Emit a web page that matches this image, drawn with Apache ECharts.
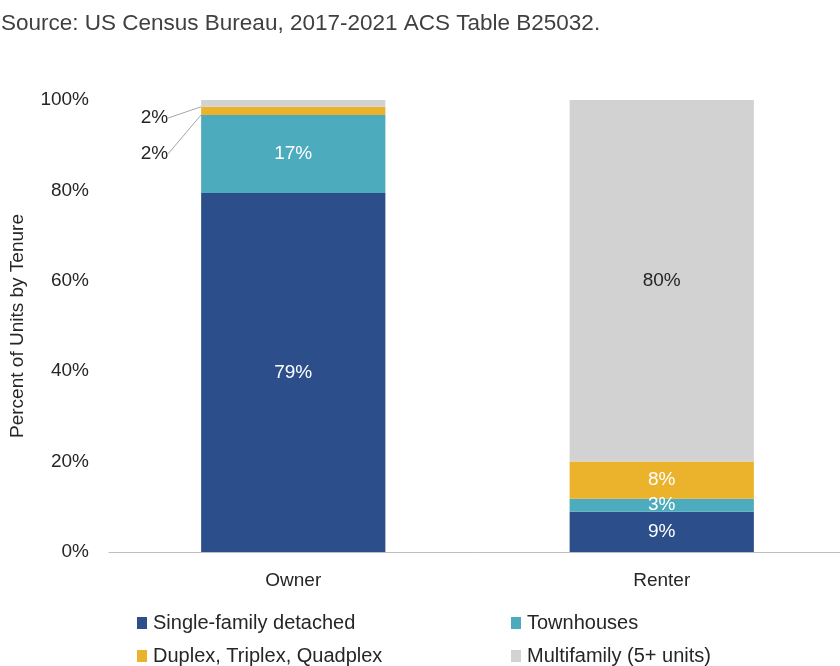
<!DOCTYPE html>
<html>
<head>
<meta charset="utf-8">
<script src="https://cdn.jsdelivr.net/npm/echarts@6/dist/echarts.min.js"></script>
<style>
  html, body { margin: 0; padding: 0; background: #fff; }
  #chart { width: 840px; height: 666px; }
</style>
</head>
<body>
<div id="chart"></div>
<script>
// categories and shares (percent of units by tenure)
const tenures = ["Owner", "Renter"];
const singleFamily = [79.4, 8.9];
const townhouses = [17.3, 2.9];
const smallMulti = [1.8, 8.2];
const multifamily = [1.5, 80.0];
const seriesNames = ["Single-family detached", "Townhouses", "Duplex, Triplex, Quadplex", "Multifamily (5+ units)"];
const colors = ["#2C4F8B", "#4DABBE", "#EBB32B", "#D2D2D2"];
const yTicks = [0, 20, 40, 60, 80, 100];

const FONT = "Liberation Sans";
const chart = echarts.init(document.getElementById("chart"));

// small owner segments get labels pulled out to the left
function outsideItem(v) {
  return {
    value: v,
    label: { color: "#262626" },
    labelLine: { show: true, lineStyle: { color: "#a6a6a6", width: 1 } }
  };
}

function makeSeries(name, idx, values) {
  return {
    name: name,
    type: "bar",
    stack: "total",
    barWidth: "50%",
    itemStyle: { color: colors[idx] },
    label: {
      show: true,
      position: "inside",
      color: "#fff",
      fontFamily: FONT,
      fontSize: 19,
      formatter: p => Math.round(p.value) + "%"
    },
    data: values
  };
}

const series = [
  makeSeries(seriesNames[0], 0, singleFamily),
  makeSeries(seriesNames[1], 1, townhouses),
  makeSeries(seriesNames[2], 2, [outsideItem(smallMulti[0]), smallMulti[1]]),
  makeSeries(seriesNames[3], 3, [outsideItem(multifamily[0]), { value: multifamily[1], label: { color: "#262626" } }])
];
series[2].labelLayout = p => p.dataIndex === 0 ? { x: p.rect.x - 33, y: p.rect.y + 47, align: "right", verticalAlign: "middle" } : {};
series[3].labelLayout = p => p.dataIndex === 0 ? { x: p.rect.x - 33, y: p.rect.y + 18, align: "right", verticalAlign: "middle" } : {};

// one legend per entry so they sit on a 2x2 grid
const legendPos = [[137, 613], [511, 613], [137, 646], [511, 646]];
const legends = seriesNames.map((n, i) => ({
  data: [n],
  left: legendPos[i][0],
  top: legendPos[i][1],
  padding: 0,
  icon: "rect",
  itemWidth: 10,
  itemHeight: 12,
  itemGap: 6,
  textStyle: { fontFamily: FONT, fontSize: 20, color: "#262626", padding: [0, 0, 0, 1] }
}));

chart.setOption({
  animation: false,
  title: {
    text: "Source: US Census Bureau, 2017-2021 ACS Table B25032.",
    left: -4,
    top: 7,
    textStyle: { fontFamily: FONT, fontSize: 22.5, fontWeight: "normal", color: "#404040" }
  },
  legend: legends,
  grid: { left: 109, width: 737, top: 100, bottom: 114, outerBoundsMode: "none" },
  xAxis: {
    type: "category",
    data: tenures,
    axisLine: { lineStyle: { color: "#bfbfbf" } },
    axisTick: { show: false },
    axisLabel: { fontFamily: FONT, fontSize: 19, color: "#262626", margin: 19 }
  },
  yAxis: {
    type: "value",
    min: yTicks[0],
    max: yTicks[yTicks.length - 1],
    interval: 20,
    name: "Percent of Units by Tenure",
    nameLocation: "middle",
    nameGap: 82,
    nameTextStyle: { fontFamily: FONT, fontSize: 19, color: "#262626" },
    splitLine: { show: false },
    axisLine: { show: false },
    axisTick: { show: false },
    axisLabel: { fontFamily: FONT, fontSize: 19, color: "#262626", margin: 20, formatter: "{value}%" }
  },
  series: series
});
</script>
</body>
</html>
